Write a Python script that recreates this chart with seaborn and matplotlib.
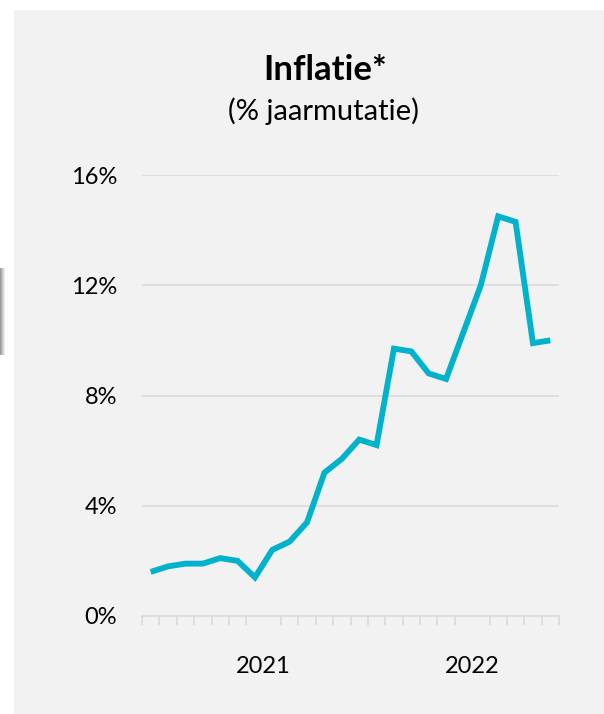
import matplotlib
matplotlib.use("Agg")
import matplotlib.pyplot as plt
import numpy as np
import pandas as pd
import seaborn as sns
from matplotlib.patches import Rectangle

# maandelijkse inflatie, jan 2021 - dec 2022
maanden = pd.date_range("2021-01-01", periods=24, freq="MS")
inflatie = [1.6, 1.8, 1.9, 1.9, 2.1, 2.0, 1.4, 2.4, 2.7, 3.4, 5.2, 5.7,
            6.4, 6.2, 9.7, 9.6, 8.8, 8.6, 10.3, 12.0, 14.5, 14.3, 9.9, 10.0]
jaren = ["2021", "2022"]
y_ticks = [0, 4, 8, 12, 16]

df = pd.DataFrame({"pos": np.arange(len(maanden)), "inflatie": inflatie})

sns.set_style("white")
plt.rcParams["font.family"] = ["Lato", "DejaVu Sans"]
plt.rcParams["text.color"] = "black"
plt.rcParams["xtick.color"] = "black"
plt.rcParams["ytick.color"] = "black"

bg = "#f2f2f2"
grid = "#d9d9d9"

fig = plt.figure(figsize=(6.04, 7.14), dpi=100)
fig.patch.set_facecolor("white")

# grijs paneel
fig.patches.append(Rectangle((14 / 604, 0), 1, 1 - 10 / 714, transform=fig.transFigure,
                             facecolor=bg, edgecolor="none", zorder=-5))
# rand van het vorige paneel links
for i, c in enumerate(["#9a9a9a", "#b0b0b0", "#c6c6c6", "#dadada", "#ebebeb"]):
    fig.patches.append(Rectangle((i / 604, 1 - 355 / 714), 1.2 / 604, 87 / 714,
                                 transform=fig.transFigure, facecolor=c,
                                 edgecolor="none", zorder=-5))

ax = fig.add_axes([142 / 604, 1 - 616 / 714, 417 / 604, 441 / 714])
ax.set_facecolor(bg)
ax.patch.set_alpha(0)

sns.lineplot(data=df, x="pos", y="inflatie", ax=ax, color="#00b2cc", linewidth=4.2,
             solid_joinstyle="miter", solid_capstyle="butt")

ax.set_xlim(-0.5, len(maanden) - 0.5)
ax.set_ylim(0, 16)
ax.set_xlabel("")
ax.set_ylabel("")

for v in y_ticks[1:]:
    ax.axhline(v, color=grid, linewidth=1.1, zorder=0)

ax.set_yticks(y_ticks)
ax.set_yticklabels([f"{v}%" for v in y_ticks])
ax.tick_params(axis="y", length=0, pad=18, labelsize=17)

# jaartallen midden onder de jaren
ax.set_xticks([6.5, 18.5])
ax.set_xticklabels(jaren)
ax.set_xticks(np.arange(-0.5, len(maanden)), minor=True)
ax.tick_params(axis="x", which="major", bottom=True, length=0, pad=29, labelsize=17)
ax.tick_params(axis="x", which="minor", bottom=True, length=6.5, width=1.1,
               color=grid, direction="out")

for s in ["top", "right", "left"]:
    ax.spines[s].set_visible(False)
ax.spines["bottom"].set_color(grid)
ax.spines["bottom"].set_linewidth(1.1)

fig.text(325 / 604, 1 - 70 / 714, "Inflatie*", ha="center", va="center",
         fontsize=25, fontweight="bold")
fig.text(323 / 604, 1 - 111 / 714, "(% jaarmutatie)", ha="center", va="center",
         fontsize=21)

fig.savefig("out.png", dpi=100, facecolor=fig.get_facecolor())
